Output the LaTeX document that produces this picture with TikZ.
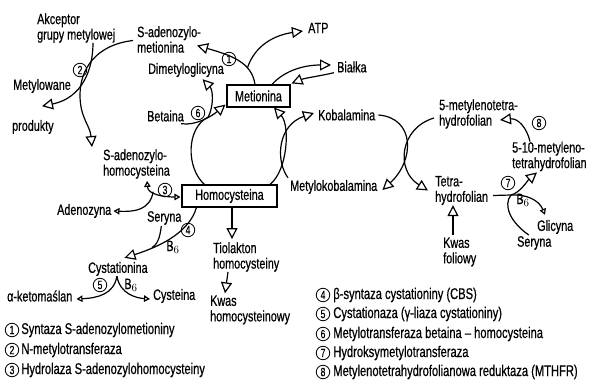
\documentclass[tikz,border=0pt]{standalone}
\usepackage{fontspec}
\setmainfont{Liberation Sans}[FakeStretch=0.72, FakeBold=0.6]
\usetikzlibrary{arrows.meta, positioning, calc}
\newcommand{\lblfont}{\fontsize{15}{15.5}\selectfont}
\newcommand{\legfont}{\fontsize{15.5}{16}\selectfont}
\newcommand{\numfont}{\fontsize{12}{12}\selectfont}
\tikzset{
  box/.style  = {rectangle, draw=black, line width=1.1pt, minimum height=22pt,
                 inner sep=2pt, font=\lblfont},
  txt/.style  = {inner sep=0pt, anchor=west, align=left, font=\lblfont},
  sub/.style  = {inner sep=0pt, font=\lblfont},
  num/.style  = {circle, draw=black, line width=0.8pt, minimum size=13.5pt,
                 inner sep=0pt, font=\numfont},
  leg/.style  = {inner sep=0pt, font=\legfont},
  ln/.style   = {line width=1.2pt},
  fl/.style   = {-{Triangle[open, length=11pt, width=11pt]}, line width=1.2pt},
  fls/.style  = {-{Triangle[open, length=6pt, width=6.5pt]}, line width=1.2pt},
}

\begin{document}
\begin{tikzpicture}[x=1pt, y=-1pt]
  \useasboundingbox (0,0) rectangle (592,390);
  % boxes
  \node[box, minimum width=63pt] (met) at (258.5,96)  {Metionina};
  \node[box, minimum width=95pt] (hcy) at (229.5,196) {Homocysteina};
  % labels
  \node[txt] (akc)   at (37,28)    {Akceptor\\grupy metylowej};
  \node[txt] (sam)   at (137,39.5) {S-adenozylo-\\metionina};
  \node[txt] (atp)   at (308,28)   {ATP};
  \node[txt] (bia)   at (337,67)   {Białka};
  \node[txt] (dmg)   at (148,70)   {Dimetyloglicyna};
  \node[txt] (bet)   at (147,116)  {Betaina};
  \node[txt] (kob)   at (318,115)  {Kobalamina};
  \node[txt] (mcb)   at (290,187)  {Metylokobalamina};
  \node[txt] (mthf)  at (439,114)  {5-metylenotetra-\\hydrofolian};
  \node[txt] (thf)   at (435,190.5){Tetra-\\hydrofolian};
  \node[txt] (mlthf) at (512,156.5){5-10-metyleno-\\tetrahydrofolian};
  \node[txt] (kwf)   at (443,252)  {Kwas\\foliowy};
  \node[txt] (gly)   at (537,227)  {Glicyna};
  \node[txt] (ser2)  at (517,243)  {Seryna};
  \node[txt] (metyl) at (13,86)    {Metylowane};
  \node[txt] (prod)  at (12,127)   {produkty};
  \node[txt] (sah)   at (103,164)  {S-adenozylo-\\homocysteina};
  \node[txt] (ado)   at (57,211)   {Adenozyna};
  \node[txt] (ser1)  at (147,218)  {Seryna};
  \node[txt] (cth)   at (88,269)   {Cystationina};
  \node[txt] (akb)   at (7,296)    {α-ketomaślan};
  \node[txt] (cys)   at (153,296)  {Cysteina};
  \node[txt] (tio)   at (213,257)  {Tiolakton\\homocysteiny};
  \node[txt] (kwh)   at (210,310)  {Kwas\\homocysteinowy};
  \node[sub] (b6a)   at (173,247)  {B$_6$};
  \node[sub] (b6b)   at (131,285)  {B$_6$};
  \node[sub] (b6c)   at (523,200)  {B$_6$};
  % enzymes
  \node[num] (e1) at (229,59)  {1};
  \node[num] (e2) at (80,70)   {2};
  \node[num] (e3) at (165,190) {3};
  \node[num] (e4) at (188,230) {4};
  \node[num] (e5) at (100,285) {5};
  \node[num] (e6) at (198,113) {6};
  \node[num] (e7) at (508,183) {7};
  \node[num] (e8) at (539,123) {8};
  \coordinate (j7) at (511,195);
  \coordinate (kwtop) at ($(kwf.north west)+(10,-2)$);

  % methionine cycle
  \draw[fl] ($(met.north)+(-3.5,0)$) .. controls (252,62) and (230,55) ..
        coordinate[pos=0.3] (atpsrc) ($(sam.west)+(60,6)$);
  \draw[fl] (atpsrc) .. controls (255,45) and (275,35) .. ($(atp.west)+(-5,3)$);
  \draw[fl] ($(met.north)+(13.5,0)$) .. controls (285,70) and (305,65) .. ($(bia.west)+(-6,-2)$);
  \draw[fl] ($(bia.south west)+(-3,0)$) .. controls (320,76) and (305,78) .. ($(met.north east)+(1,-1)$);
  \draw[fl] ($(bet.south east)+(-3,2)$) .. controls (196,126) and (212,116) ..
        coordinate[pos=0.6] (j6) ($(met.south west)+(-1,-3)$);
  \draw[ln] ($(hcy.north west)+(23,0)$) .. controls (186,168) and (186,128) .. (j6);
  \draw[fl] (j6) .. controls (214,105) and (213,90) .. ($(dmg.south)+(16.5,2)$);
  \draw[fl] ($(hcy.north)+(40.5,0)$) .. controls (288,170) and (290,125) .. ($(met.south)+(15.5,0)$);
  % cobalamin and folate
  \draw[fl] ($(mcb.north west)+(-2,-2)$) .. controls (275,160) and (278,125) .. ($(kob.west)+(-4,-2)$);
  \draw[fl] ($(kob.east)+(3,0)$) .. controls (415,118) and (415,160) .. ($(mcb.east)+(5,3)$);
  \draw[fl] ($(mthf.west)+(-5,4)$) .. controls (400,128) and (395,170) .. ($(thf.west)+(-7,0)$);
  \draw[fl] ($(mlthf.north west)+(18,0)$) .. controls (527,128) and (518,118) .. ($(mthf.west)+(61,6)$);
  \draw[fl] ($(thf.west)+(58,5)$) -- (j7) .. controls (520,193) and (528,180) .. ($(mlthf.south west)+(25,1)$);
  \draw[fls] (j7) .. controls (526,194) and (539,200) .. ($(gly.north west)+(8,-5)$);
  \draw[ln] ($(ser2.north)+(-5.5,-1)$) .. controls (510,222) and (503,205) .. (j7);
  \draw[fl] (kwtop) -- (kwtop |- thf.south);
  % SAM, SAH
  \draw[fl] ($(sam.west)+(-4,1)$) .. controls (95,45) and (80,70) .. (80,95)
        .. controls (80,118) and (90,125) .. ($(sah.north west)+(-11,-2)$);
  \draw[fl] ($(akc.south west)+(56,0)$) .. controls (93,70) and (82,98) .. ($(metyl.south west)+(29,13)$);
  \draw[fls, {Triangle[open, length=6pt, width=6.5pt]}-{Triangle[open, length=6pt, width=6.5pt]}]
        ($(hcy.west)+(-1,1)$) .. controls (165,197) and (148,195) ..
        coordinate[pos=0.65] (j3) ($(sah.south west)+(44,2)$);
  \draw[fls] (j3) .. controls (150,210) and (135,212) .. ($(ado.east)+(2,0)$);
  % transsulfuration
  \draw[fl] ($(hcy.south west)+(15,0)$) .. controls (190,230) and (165,245) ..
        coordinate[pos=0.75] (j4) ($(cth.north)+(6.5,-4)$);
  \draw[ln] ($(ser1.south)+(-3,1)$) .. controls (160,238) and (157,245) .. (j4);
  \draw[fls] ($(cth.south)+(-1,0)$) .. controls (114,294) and (98,298) .. ($(akb.east)+(4,3)$);
  \draw[fls] ($(cth.south)+(-1,0)$) .. controls (120,294) and (136,298) .. ($(cys.west)+(-3,3)$);
  \draw[fl] ($(hcy.south)+(2.5,0)$) -- ($(tio.north west)+(19,-3)$);
  \draw[fl] ($(tio.south west)+(15,0)$) -- ($(kwh.north west)+(15,-2)$);

  % legend
  \node[num] (l1) at (12,330) {1};
  \node[leg, right=2pt of l1] {Syntaza S-adenozylometioniny};
  \node[num] (l2) at (12,350) {2};
  \node[leg, right=2pt of l2] {N-metylotransferaza};
  \node[num] (l3) at (12,370) {3};
  \node[leg, right=2pt of l3] {Hydrolaza S-adenozylohomocysteiny};
  \node[num] (l4) at (323,295) {4};
  \node[leg, right=3pt of l4] {β-syntaza cystationiny (CBS)};
  \node[num] (l5) at (323,314) {5};
  \node[leg, right=3pt of l5] {Cystationaza (γ-liaza cystationiny)};
  \node[num] (l6) at (323,334) {6};
  \node[leg, right=3pt of l6] {Metylotransferaza betaina -- homocysteina};
  \node[num] (l7) at (323,353) {7};
  \node[leg, right=3pt of l7] {Hydroksymetylotransferaza};
  \node[num] (l8) at (323,372) {8};
  \node[leg, right=3pt of l8] {Metylenotetrahydrofolianowa reduktaza (MTHFR)};
\end{tikzpicture}
\end{document}
